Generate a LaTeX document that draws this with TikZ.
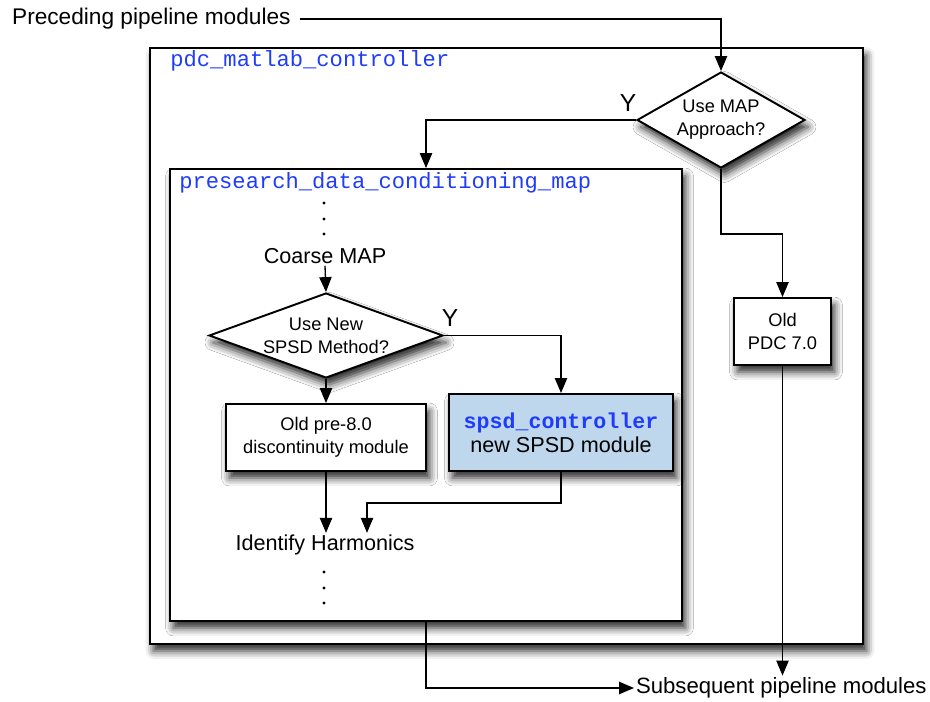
\documentclass[tikz,border=0pt]{standalone}
\usepackage{fontspec}
\setmainfont{Liberation Sans}
\newfontfamily\codefont{Liberation Mono}
\usepackage{tikz}
\usetikzlibrary{shapes.geometric, arrows.meta, shadows.blur}

\definecolor{codeblue}{RGB}{30,60,250}
\definecolor{spsdfill}{RGB}{190,215,236}

\begin{document}
\begin{tikzpicture}[x=0.02cm, y=-0.02cm,
    flow/.style={line width=0.75pt, -{Triangle[length=8.5pt, width=7pt]}},
    shade/.style={blur shadow={shadow xshift=2pt, shadow yshift=-4pt, shadow blur radius=4.5pt, shadow opacity=85}},
    frame/.style={draw, line width=1.1pt, fill=white, shade, inner sep=0pt},
    box/.style={draw, line width=1.1pt, fill=white, shade, align=center, font=\fontsize{10.4}{13}\selectfont},
    decision/.style={diamond, draw, line width=1.1pt, fill=white, shade, inner sep=0pt, align=center, font=\fontsize{10.4}{13}\selectfont},
    txt/.style={inner sep=1pt, font=\fontsize{12.3}{14}\selectfont},
    code/.style={inner sep=0pt, text=codeblue, font=\codefont\fontsize{12.6}{15}\selectfont},
    yes/.style={inner sep=0pt, font=\fontsize{14}{16}\selectfont}]

    \useasboundingbox (0,0) rectangle (930,702);

    % Define the two module frames
    \node[frame, minimum width=14.26cm, minimum height=11.92cm] (outer) at (506.5,346) {};
    \node[code, anchor=west] (outername) at (170,61) {pdc\_matlab\_controller};
    \node[frame, minimum width=10.24cm, minimum height=9.04cm] (inner) at (426,395) {};
    \node[code, anchor=west] (innername) at (179,183) {presearch\_data\_conditioning\_map};

    % Decisions and modules
    \node[decision, aspect=1.75, minimum width=3.36cm, minimum height=1.92cm] (map) at (721,120) {Use MAP\\Approach?};
    \node[box, minimum width=1.94cm, minimum height=1.34cm] (oldpdc) at (782.5,331.5) {Old\\PDC 7.0};
    \node[decision, aspect=2.75, minimum width=4.68cm, minimum height=1.7cm] (newspsd) at (326,335.5) {Use New\\SPSD Method?};
    \node[box, minimum width=4cm, minimum height=1.34cm] (oldmod) at (326,437.5) {Old pre-8.0\\discontinuity module};
    \node[box, fill=spsdfill, minimum width=4.48cm, minimum height=1.54cm, font=\fontsize{12.3}{13.6}\selectfont] (spsdbox) at (561,432.5)
        {{\codefont\bfseries\fontsize{12.3}{13.6}\selectfont\color{codeblue}spsd\_controller}\\new SPSD module};

    % Plain text steps
    \node[txt, inner xsep=5pt, anchor=west, font=\fontsize{12.9}{15}\selectfont] (prec) at (3,19) {Preceding pipeline modules};
    \node[txt, anchor=west, font=\fontsize{12.6}{15}\selectfont] (subs) at (634,688) {Subsequent pipeline modules};
    \node[txt] (coarse) at (325,256) {Coarse MAP};
    \node[txt] (harm) at (325,545) {Identify Harmonics};
    \foreach \y in {203,219,234,572,588,603}
        \fill (324,\y) circle (0.95pt);

    % Label the yes branches
    \node[yes] (mapyes) at (628,103) {Y};
    \node[yes] (spsdyes) at (450,318) {Y};

    % Connectors
    \coordinate (pdcbend) at (721,234);
    \coordinate (spsdjoin) at (367,503);
    \draw[flow] (prec.east) -| (map.north);
    \draw[flow] (map.west) -| (inner.north);
    \draw[flow] (map.south) -- (pdcbend) -| (oldpdc.north);
    \draw[flow] (oldpdc.south) -- (oldpdc.south |- subs.north);
    \draw[flow] (coarse.south) -- (newspsd.north);
    \draw[flow] (newspsd.east) -| (spsdbox.north);
    \draw[flow] (newspsd.south) -- (oldmod.north);
    \draw[flow] (oldmod.south) -- (oldmod.south |- harm.north);
    \draw[flow] (spsdbox.south) |- (spsdjoin) -- (spsdjoin |- harm.north);
    \draw[flow] (inner.south) |- (subs.west);

\end{tikzpicture}
\end{document}
